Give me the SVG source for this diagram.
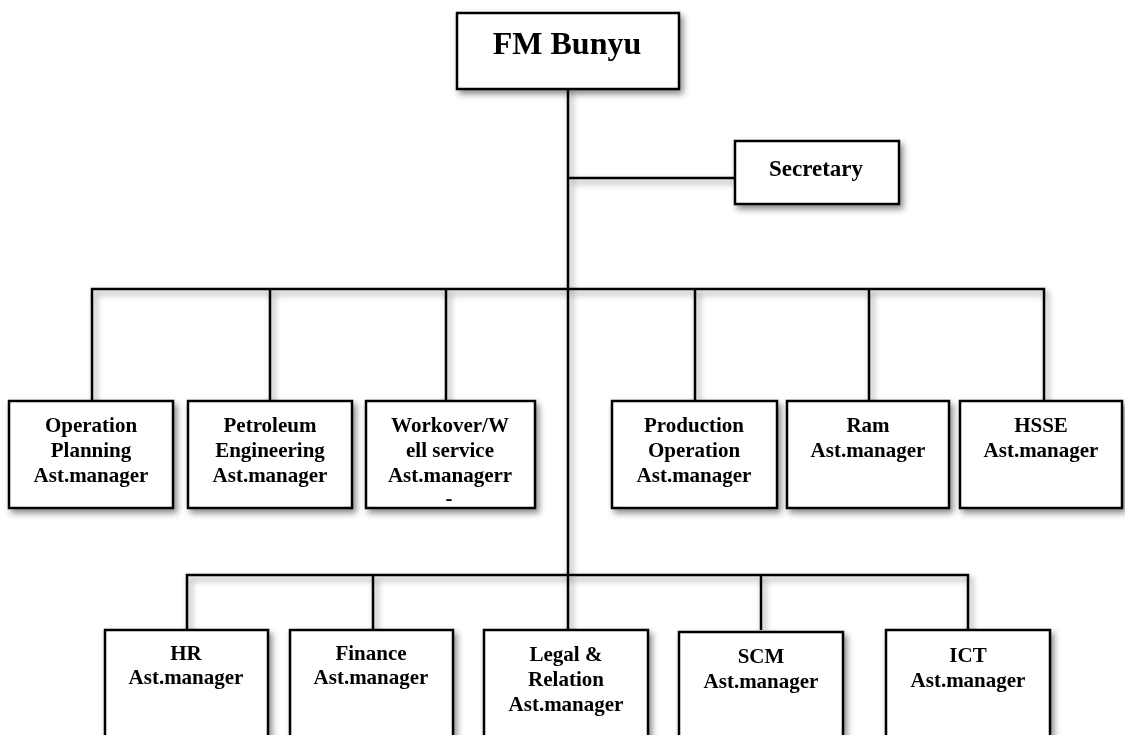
<svg xmlns="http://www.w3.org/2000/svg" width="1125" height="735" viewBox="0 0 1125 735">
<defs>
<filter id="sh" x="-20%" y="-20%" width="140%" height="160%">
<feDropShadow dx="3" dy="4" stdDeviation="3" flood-color="#000" flood-opacity="0.45"/>
</filter>
</defs>
<style>
.box{fill:#fff;stroke:#000;stroke-width:2.5}
.ln{fill:none;stroke:#000;stroke-width:2.5}
text{font-family:"Liberation Serif","Times New Roman",serif;font-weight:bold;fill:#000;text-anchor:middle}
.t{font-size:21px}
</style>
<rect width="1125" height="735" fill="#fff"/>
<g id="connectors" filter="url(#sh)">
<path class="ln" d="M568,89 V630"/>
<path class="ln" d="M568,178 H735"/>
<path class="ln" d="M92,401 V289 H1044 V401"/>
<path class="ln" d="M270,289 V401 M446,289 V401 M695,289 V401 M869,289 V401"/>
<path class="ln" d="M187,630 V575 H968 V630"/>
<path class="ln" d="M373,575 V630 M761,575 V630"/>
</g>
<g id="fm" filter="url(#sh)"><rect class="box" x="457" y="13" width="222" height="76"/><text x="567" y="54" style="font-size:32px">FM Bunyu</text></g>
<g id="secretary" filter="url(#sh)"><rect class="box" x="735" y="141" width="164" height="63"/><text x="816" y="176" style="font-size:23px">Secretary</text></g>
<g id="opplan" filter="url(#sh)"><rect class="box" x="9" y="401" width="164" height="107"/><text class="t" x="91" y="432">Operation</text><text class="t" x="91" y="457">Planning</text><text class="t" x="91" y="482">Ast.manager</text></g>
<g id="petro" filter="url(#sh)"><rect class="box" x="188" y="401" width="164" height="107"/><text class="t" x="270" y="432">Petroleum</text><text class="t" x="270" y="457">Engineering</text><text class="t" x="270" y="482">Ast.manager</text></g>
<g id="workover" filter="url(#sh)"><rect class="box" x="366" y="401" width="169" height="107"/><text class="t" x="450" y="432">Workover/W</text><text class="t" x="450" y="457">ell service</text><text class="t" x="450" y="482">Ast.managerr</text><text class="t" x="449" y="505">-</text></g>
<g id="prodop" filter="url(#sh)"><rect class="box" x="612" y="401" width="165" height="107"/><text class="t" x="694" y="432">Production</text><text class="t" x="694" y="457">Operation</text><text class="t" x="694" y="482">Ast.manager</text></g>
<g id="ram" filter="url(#sh)"><rect class="box" x="787" y="401" width="162" height="107"/><text class="t" x="868" y="432">Ram</text><text class="t" x="868" y="457">Ast.manager</text></g>
<g id="hsse" filter="url(#sh)"><rect class="box" x="960" y="401" width="162" height="107"/><text class="t" x="1041" y="432">HSSE</text><text class="t" x="1041" y="457">Ast.manager</text></g>
<g id="hr" filter="url(#sh)"><rect class="box" x="105" y="630" width="163" height="115"/><text class="t" x="186" y="660">HR</text><text class="t" x="186" y="684">Ast.manager</text></g>
<g id="finance" filter="url(#sh)"><rect class="box" x="290" y="630" width="163" height="115"/><text class="t" x="371" y="660">Finance</text><text class="t" x="371" y="684">Ast.manager</text></g>
<g id="legal" filter="url(#sh)"><rect class="box" x="484" y="630" width="164" height="115"/><text class="t" x="566" y="661">Legal &amp;</text><text class="t" x="566" y="686">Relation</text><text class="t" x="566" y="711">Ast.manager</text></g>
<g id="scm" filter="url(#sh)"><rect class="box" x="679" y="632" width="164" height="115"/><text class="t" x="761" y="663">SCM</text><text class="t" x="761" y="688">Ast.manager</text></g>
<g id="ict" filter="url(#sh)"><rect class="box" x="886" y="630" width="164" height="115"/><text class="t" x="968" y="662">ICT</text><text class="t" x="968" y="687">Ast.manager</text></g>
</svg>
